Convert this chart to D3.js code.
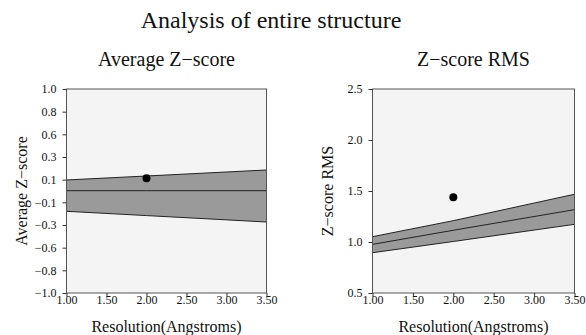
<!DOCTYPE html>
<html>
<head>
<meta charset="utf-8">
<script src="https://cdn.jsdelivr.net/npm/d3@7"></script>
<style>
  body { margin: 0; background: #fff; }
  text { font-family: "Liberation Serif", "DejaVu Serif", serif; fill: #111; }
</style>
</head>
<body>
<svg width="586" height="335"></svg>
<script>
// resolution grid used by the reference bands
const resolution = [1.0, 2.0, 3.5];
const xTicks = [1.0, 1.5, 2.0, 2.5, 3.0, 3.5];

// Average Z-score panel
const avgUpper = [0.108, 0.147, 0.206];
const avgMid = [0.003, 0.003, 0.003];
const avgLower = [-0.199, -0.241, -0.304];
const avgPoint = [2.0, 0.125];
const avgTicks = d3.range(10).map((i) => -1 + (2 * i) / 9);

// Z-score RMS panel
const rmsUpper = [1.052, 1.209, 1.468];
const rmsMid = [0.977, 1.115, 1.317];
const rmsLower = [0.895, 1.005, 1.173];
const rmsPoint = [2.0, 1.438];
const rmsTicks = [0.5, 1.0, 1.5, 2.0, 2.5];

const svg = d3.select("svg");

svg.append("text")
  .attr("x", 271).attr("y", 28)
  .attr("text-anchor", "middle")
  .style("font-size", "24px")
  .text("Analysis of entire structure");

function panel(opts) {
  const { left, right, top, bottom } = opts;
  const x = d3.scaleLinear().domain([1.0, 3.5]).range([left, right]);
  const y = d3.scaleLinear().domain(opts.domain).range([bottom, top]);
  const g = svg.append("g");

  g.append("rect")
    .attr("x", left).attr("y", top)
    .attr("width", right - left).attr("height", bottom - top)
    .attr("fill", "#f4f4f4");

  const band = resolution.map((r, i) => ({ r, lo: opts.lower[i], hi: opts.upper[i] }));
  g.append("path")
    .datum(band)
    .attr("fill", "#9a9a9a")
    .attr("d", d3.area().x((d) => x(d.r)).y0((d) => y(d.lo)).y1((d) => y(d.hi)));

  [opts.upper, opts.mid, opts.lower].forEach((vals) => {
    g.append("path")
      .datum(resolution.map((r, i) => [r, vals[i]]))
      .attr("fill", "none")
      .attr("stroke", "#222")
      .attr("stroke-width", 1)
      .attr("d", d3.line().x((d) => x(d[0])).y((d) => y(d[1])));
  });

  g.append("circle")
    .attr("cx", x(opts.point[0])).attr("cy", y(opts.point[1]))
    .attr("r", 4).attr("fill", "#000");

  g.append("rect")
    .attr("x", left).attr("y", top)
    .attr("width", right - left).attr("height", bottom - top)
    .attr("fill", "none").attr("stroke", "#555").attr("stroke-width", 1);

  const xa = g.append("g")
    .attr("transform", `translate(0,${bottom})`)
    .call(d3.axisBottom(x).tickValues(xTicks).tickFormat(d3.format(".2f")).tickSize(4).tickPadding(-2));
  const ya = g.append("g")
    .attr("transform", `translate(${left},0)`)
    .call(d3.axisLeft(y).tickValues(opts.ticks).tickFormat((d) => d3.format(".1f")(d).replace("-", "\u2212")).tickSize(4).tickPadding(6));
  [xa, ya].forEach((a) => {
    a.select(".domain").remove();
    a.selectAll("line").attr("stroke", "#333");
    a.selectAll("text").style("font-size", "12px")
      .style("font-family", "'Liberation Serif', serif").attr("fill", "#222");
  });

  g.append("text")
    .attr("x", (left + right) / 2).attr("y", 66)
    .attr("text-anchor", "middle").style("font-size", "20px")
    .text(opts.title);
  g.append("text")
    .attr("x", (left + right) / 2).attr("y", 332)
    .attr("text-anchor", "middle").style("font-size", "16px")
    .text("Resolution(Angstroms)");
  g.append("text")
    .attr("transform", `translate(${opts.ylabelX},${(top + bottom) / 2}) rotate(-90)`)
    .attr("text-anchor", "middle").style("font-size", "16px")
    .text(opts.ylabel);
}

panel({
  left: 66.5, right: 266.5, top: 89, bottom: 293,
  domain: [-1, 1], ticks: avgTicks,
  upper: avgUpper, mid: avgMid, lower: avgLower, point: avgPoint,
  title: "Average Z\u2212score", ylabel: "Average Z\u2212score", ylabelX: 27
});

panel({
  left: 372.5, right: 574.5, top: 89, bottom: 293,
  domain: [0.5, 2.5], ticks: rmsTicks,
  upper: rmsUpper, mid: rmsMid, lower: rmsLower, point: rmsPoint,
  title: "Z\u2212score RMS", ylabel: "Z\u2212score RMS", ylabelX: 333
});
</script>
</body>
</html>
